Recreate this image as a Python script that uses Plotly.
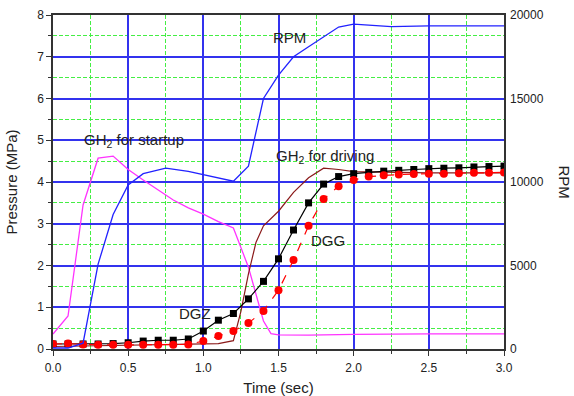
import plotly.graph_objects as go

# ---- data ----
t_dg = [0.0, 0.1, 0.2, 0.3, 0.4, 0.5, 0.6, 0.7, 0.8, 0.9, 1.0, 1.1, 1.2, 1.3, 1.4, 1.5,
        1.6, 1.7, 1.8, 1.9, 2.0, 2.1, 2.2, 2.3, 2.4, 2.5, 2.6, 2.7, 2.8, 2.9, 3.0]
dgz = [0.12, 0.12, 0.12, 0.12, 0.13, 0.15, 0.19, 0.21, 0.21, 0.24, 0.43, 0.69, 0.85, 1.2, 1.62, 2.16,
       2.85, 3.5, 3.95, 4.13, 4.2, 4.23, 4.26, 4.28, 4.3, 4.32, 4.33, 4.34, 4.36, 4.37, 4.38]
dgg = [0.12, 0.13, 0.11, 0.1, 0.1, 0.1, 0.1, 0.1, 0.1, 0.11, 0.19, 0.31, 0.43, 0.62, 0.91, 1.41,
       2.13, 2.95, 3.59, 3.9, 4.05, 4.13, 4.16, 4.18, 4.19, 4.2, 4.2, 4.21, 4.22, 4.22, 4.23]

t_start = [0.0, 0.1, 0.2, 0.3, 0.4, 0.5, 0.6, 0.7, 0.8, 0.9, 1.0, 1.1, 1.2, 1.3, 1.4, 1.45,
           1.5, 1.7, 2.0, 2.5, 3.0]
gh2_start = [0.36, 0.79, 3.45, 4.57, 4.62, 4.3, 4.05, 3.8, 3.57, 3.38, 3.23, 3.05, 2.9, 1.96, 0.67, 0.37,
             0.34, 0.33, 0.35, 0.36, 0.36]

t_drive = [0.0, 0.2, 0.4, 0.6, 0.8, 1.0, 1.1, 1.2, 1.25, 1.3, 1.35, 1.4, 1.5, 1.6, 1.7, 1.8,
           1.9, 2.0, 2.5, 3.0]
gh2_drive = [0.06, 0.07, 0.08, 0.09, 0.1, 0.11, 0.13, 0.2, 0.9, 1.8, 2.55, 2.95, 3.3, 3.75, 4.1, 4.33,
             4.3, 4.25, 4.22, 4.22]

t_rpm = [0.0, 0.1, 0.2, 0.3, 0.4, 0.5, 0.6, 0.75, 0.9, 1.0, 1.1, 1.2, 1.3, 1.4, 1.5, 1.6,
         1.7, 1.8, 1.9, 2.0, 2.1, 2.25, 2.5, 3.0]
rpm = [60, 60, 350, 5080, 8050, 9820, 10500, 10830, 10630, 10450, 10250, 10050, 10950, 15000, 16400, 17500,
       18100, 18700, 19280, 19450, 19380, 19300, 19350, 19350]

labels = ["RPM", "GH<sub>2</sub> for startup", "GH<sub>2</sub> for driving", "DGZ", "DGG"]
label_x = [1.573, 0.536, 1.806, 0.945, 1.826]
label_y = [7.45, 5.0, 4.62, 0.84, 2.59]

FONT = "Liberation Sans, Arial, sans-serif"
TXT = "#222222"

fig = go.Figure()
fig.add_trace(go.Scatter(x=t_start, y=gh2_start, mode="lines",
                         line=dict(color="#ff33ff", width=1.3), showlegend=False))
fig.add_trace(go.Scatter(x=t_drive, y=gh2_drive, mode="lines",
                         line=dict(color="#8b1a1a", width=1.2), showlegend=False))
fig.add_trace(go.Scatter(x=t_dg, y=dgz, mode="lines+markers",
                         line=dict(color="black", width=1.2),
                         marker=dict(symbol="square", size=7, color="black"), showlegend=False))
fig.add_trace(go.Scatter(x=t_dg, y=dgg, mode="lines+markers",
                         line=dict(color="red", width=1.2, dash="dash"),
                         marker=dict(symbol="circle", size=8, color="red"), showlegend=False))
fig.add_trace(go.Scatter(x=t_rpm, y=rpm, mode="lines", yaxis="y2",
                         line=dict(color="#2222ff", width=1.3), showlegend=False))

fig.update_layout(
    width=574, height=396,
    margin=dict(l=53, r=70, t=15, b=47),
    paper_bgcolor="white", plot_bgcolor="white",
    font=dict(family=FONT, size=12, color=TXT),
    xaxis=dict(range=[0, 3.0], dtick=0.5, tickformat=".1f", automargin=False,
               showgrid=True, gridcolor="#3333ee", gridwidth=1.5,
               minor=dict(dtick=0.25, showgrid=True, gridcolor="#44ee44", griddash="4px,2px",
                          gridwidth=1.2, ticks="outside", ticklen=3, tickcolor="#333"),
               showline=True, linecolor="#333", linewidth=1.5, mirror=True,
               ticks="outside", ticklen=5, tickcolor="#333", zeroline=False,
               ticklabelstandoff=2,
               title=dict(text="Time (sec)", font=dict(size=15), standoff=16)),
    yaxis=dict(range=[0, 8], dtick=1, automargin=False,
               showgrid=True, gridcolor="#3333ee", gridwidth=1.5,
               minor=dict(dtick=0.5, showgrid=True, gridcolor="#44ee44", griddash="4px,2px",
                          gridwidth=1.2, ticks="outside", ticklen=3, tickcolor="#333"),
               showline=True, linecolor="#333", linewidth=1.5, mirror=True,
               ticks="outside", ticklen=5, tickcolor="#333", zeroline=False,
               title=dict(text="Pressure (MPa)", font=dict(size=15), standoff=16)),
    yaxis2=dict(range=[0, 20000], dtick=5000, overlaying="y", side="right",
                tickformat="d", automargin=False,
                showgrid=False, zeroline=False, showline=False,
                ticks="", ticklabelstandoff=5),
)

for x, y, s in zip(label_x, label_y, labels):
    fig.add_annotation(x=x, y=y, text=s, showarrow=False,
                       font=dict(size=15, family=FONT, color=TXT))
fig.add_annotation(x=1.0, xref="paper", xshift=71, y=0.5, yref="paper", text="RPM",
                   textangle=90, showarrow=False,
                   font=dict(size=15, family=FONT, color=TXT))

fig.write_html("out.html")
